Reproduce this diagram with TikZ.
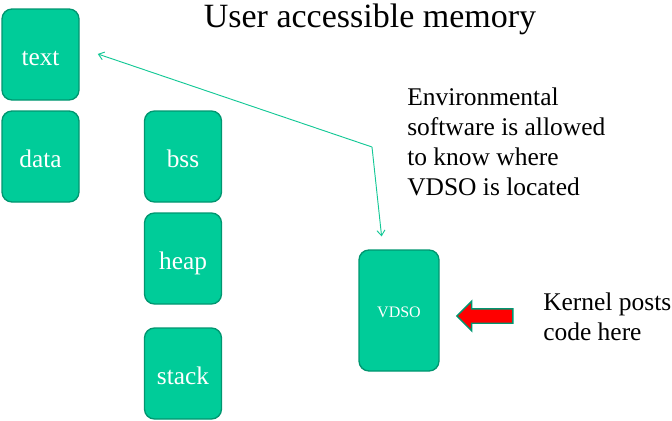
\documentclass[tikz,border=0pt]{standalone}
\usepackage{fontspec}
\setmainfont{Liberation Serif}
\usepackage{tikz}
\usetikzlibrary{
    shapes, shapes.arrows,
    arrows.meta, positioning, calc
}
\definecolor{colSeg}{RGB}{0, 204, 153}
\definecolor{colEdge}{RGB}{0, 150, 112}
\definecolor{colLink}{RGB}{20, 200, 150}

\begin{document}
\begin{tikzpicture}[x=0.75pt, y=-0.75pt,
    seg/.style={draw=colEdge, line width=1pt, fill=colSeg, rounded corners=7.5pt,
        minimum width=57.75pt, minimum height=68.25pt, text=white,
        text height=16pt, text depth=0pt,
        font=\fontsize{19}{22}\selectfont},
    link/.style={colLink, line width=0.7pt, -{Straight Barb[length=4pt, width=6pt]}},
    note/.style={align=left, inner sep=0pt, anchor=north west,
        font=\fontsize{19.1}{22.5}\selectfont}]
    \useasboundingbox (0,0) rectangle (672,421);

    % Titel
    \node[anchor=base, inner sep=0pt, font=\fontsize{25.5}{30}\selectfont] (title) at (370,27) {User accessible memory};

    % Segmente
    \node[seg] (text) at (40.5,54.5) {text};
    \node[seg] (data) at (40.5,156.5) {data};
    \node[seg] (bss) at (183,156.5) {bss};
    \node[seg] (heap) at (183,258.5) {heap};
    \node[seg] (stack) at (183,373.5) {stack};
    \node[seg, minimum width=60pt, minimum height=90.75pt, text height=10pt,
        font=\fontsize{12}{14}\selectfont] (vdso) at (399,310.5) {VDSO};

    % Erlaeuterungen
    \node[note] (envnote) at (407,88) {Environmental\\software is allowed\\to know where\\VDSO is located};
    \node[note] (kernote) at (543,293) {Kernel posts\\code here};

    % Verbindungen
    \coordinate (bend) at (372,147);
    \draw[link, shorten >=14.3pt] (bend) -- ([yshift=5pt]text.east);
    \draw[link, shorten >=9.75pt] (bend) -- ([xshift=-12pt]vdso.north);

    % roter Pfeil
    \node[single arrow, shape border rotate=180, draw=colEdge, line width=1.1pt, fill=red,
        inner xsep=0pt, inner ysep=4.875pt, minimum height=42pt,
        single arrow head extend=5.625pt] (kpost) at (488.5,316) {};
\end{tikzpicture}
\end{document}
